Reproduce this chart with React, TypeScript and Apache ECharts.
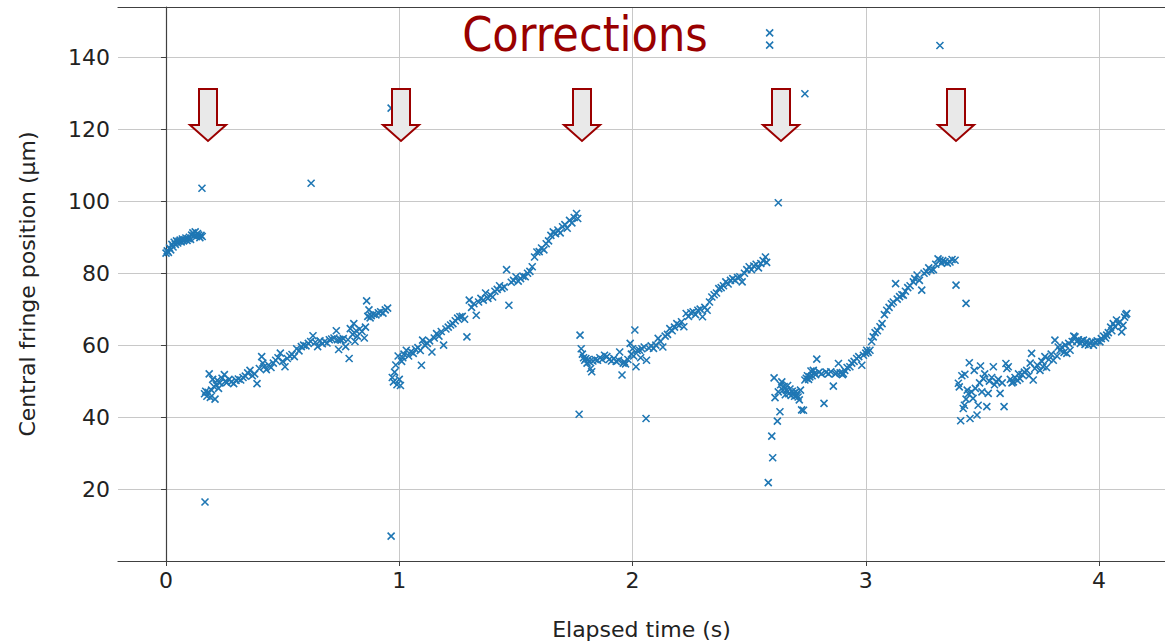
import React, { useEffect, useRef } from "react";
import * as echarts from "echarts";

// ---- Data (elapsed time s, central fringe position µm) ----
const seg1: [number, number][] = [
  [0.0, 85.6], [0.005, 86.2], [0.01, 85.8], [0.015, 87.0], [0.02, 86.5], [0.025, 88.0], [0.03, 87.3], [0.035, 88.6],
  [0.04, 88.0], [0.045, 89.0], [0.05, 88.4], [0.055, 88.9], [0.06, 89.2], [0.065, 88.7], [0.07, 89.5], [0.075, 89.0],
  [0.08, 89.3], [0.085, 89.8], [0.09, 89.1], [0.095, 89.6], [0.1, 90.0], [0.105, 89.4], [0.11, 90.6], [0.115, 91.2],
  [0.12, 90.4], [0.125, 91.5], [0.13, 90.2], [0.135, 91.0], [0.14, 90.6], [0.145, 89.9], [0.15, 90.5], [0.155, 90.2],
];

const seg2: [number, number][] = [
  [0.165, 46.5], [0.17, 47.2], [0.175, 45.8], [0.18, 46.9], [0.185, 52.0], [0.19, 45.5], [0.195, 47.5], [0.2, 50.5],
  [0.205, 48.5], [0.21, 45.0], [0.215, 49.0], [0.22, 50.2], [0.225, 48.0], [0.23, 49.5], [0.24, 50.8], [0.25, 51.8],
  [0.255, 50.0], [0.26, 49.6], [0.27, 50.5], [0.28, 49.8], [0.29, 49.3], [0.3, 50.2], [0.31, 50.6], [0.32, 50.3],
  [0.33, 51.0], [0.34, 51.4], [0.35, 52.3], [0.36, 53.0], [0.37, 51.5], [0.38, 52.0], [0.39, 49.3], [0.4, 53.5],
  [0.41, 56.8], [0.415, 55.0], [0.42, 54.0], [0.43, 53.2], [0.44, 54.5], [0.45, 53.8], [0.46, 55.0], [0.47, 55.8],
  [0.48, 56.5], [0.49, 57.8], [0.5, 55.5], [0.51, 54.0], [0.52, 56.3], [0.53, 57.0], [0.54, 57.4], [0.55, 56.8],
  [0.56, 59.0], [0.57, 58.4], [0.58, 59.6], [0.59, 60.0], [0.6, 59.8], [0.61, 60.5], [0.62, 61.0], [0.63, 62.6],
  [0.64, 60.8], [0.65, 59.6], [0.66, 61.2], [0.67, 60.4], [0.68, 61.0], [0.69, 60.6], [0.7, 61.5], [0.71, 61.7],
  [0.72, 62.0], [0.73, 64.0], [0.735, 61.5], [0.74, 58.8], [0.745, 61.6], [0.75, 61.4], [0.76, 61.8], [0.77, 59.6],
  [0.78, 61.5], [0.785, 56.3], [0.79, 64.6], [0.8, 63.0], [0.805, 66.0], [0.81, 61.0], [0.815, 64.0], [0.82, 62.5],
  [0.83, 64.5], [0.84, 63.8], [0.85, 62.0], [0.855, 65.0], [0.86, 72.3], [0.865, 68.0], [0.87, 69.8], [0.875, 67.6],
  [0.88, 68.2], [0.89, 68.6], [0.9, 68.4], [0.91, 69.0], [0.92, 69.3], [0.93, 68.9], [0.94, 69.8], [0.95, 70.3],
];

const seg3: [number, number][] = [
  [0.97, 51.0], [0.975, 49.8], [0.98, 52.5], [0.985, 54.5], [0.99, 49.0], [0.995, 57.0], [1.0, 50.5], [1.005, 48.8],
  [1.01, 55.5], [1.015, 56.5], [1.02, 57.5], [1.03, 58.6], [1.04, 57.0], [1.05, 58.2], [1.06, 57.7], [1.07, 58.8],
  [1.08, 59.3], [1.09, 58.5], [1.095, 54.4], [1.1, 61.4], [1.11, 60.0], [1.12, 60.5], [1.13, 61.2], [1.14, 58.1],
  [1.15, 62.0], [1.16, 63.2], [1.17, 62.5], [1.18, 63.8], [1.19, 60.0], [1.2, 64.5], [1.21, 65.0], [1.22, 65.6],
  [1.23, 66.0], [1.24, 66.8], [1.25, 67.5], [1.26, 67.9], [1.27, 68.0], [1.28, 67.2], [1.29, 62.3], [1.3, 72.5],
  [1.31, 70.5], [1.32, 71.5], [1.33, 68.3], [1.34, 72.0], [1.35, 73.0], [1.36, 72.5], [1.37, 74.5], [1.38, 73.0],
  [1.39, 74.0], [1.4, 73.4], [1.41, 75.0], [1.42, 75.5], [1.43, 76.5], [1.44, 75.8], [1.45, 76.2], [1.46, 81.0],
  [1.47, 71.1], [1.48, 77.5], [1.49, 78.0], [1.5, 79.0], [1.51, 77.8], [1.52, 78.5], [1.53, 79.2], [1.54, 79.0],
  [1.55, 80.0], [1.56, 80.5], [1.57, 81.8], [1.58, 84.5], [1.59, 85.9], [1.6, 86.0], [1.61, 87.0], [1.62, 86.5],
  [1.63, 88.2], [1.64, 89.0], [1.65, 90.5], [1.66, 91.5], [1.67, 91.0], [1.68, 92.0], [1.69, 91.2], [1.7, 92.9],
  [1.71, 93.5], [1.72, 92.5], [1.73, 94.7], [1.74, 94.0], [1.75, 95.5], [1.76, 96.6], [1.765, 95.2],
];

const seg4: [number, number][] = [
  [1.775, 62.8], [1.78, 59.0], [1.785, 57.5], [1.79, 56.5], [1.795, 55.8], [1.8, 56.3], [1.805, 55.0], [1.81, 56.0],
  [1.815, 55.4], [1.82, 53.5], [1.825, 52.6], [1.83, 55.6], [1.84, 56.0], [1.85, 55.8], [1.86, 56.5], [1.87, 56.0],
  [1.88, 57.2], [1.89, 56.8], [1.9, 56.0], [1.91, 55.6], [1.92, 56.3], [1.93, 55.5], [1.94, 55.8], [1.945, 58.1],
  [1.955, 51.7], [1.96, 55.0], [1.965, 55.4], [1.97, 54.8], [1.98, 56.0], [1.99, 60.5], [1.995, 57.5], [2.0, 59.0],
  [2.005, 57.0], [2.01, 64.2], [2.015, 54.0], [2.02, 58.5], [2.03, 58.6], [2.035, 56.5], [2.04, 59.0], [2.05, 59.5],
  [2.06, 55.8], [2.07, 59.2], [2.08, 59.8], [2.09, 59.1], [2.1, 60.0], [2.11, 61.9], [2.12, 61.0], [2.13, 59.5],
  [2.14, 62.5], [2.15, 63.0], [2.16, 64.6], [2.17, 64.0], [2.18, 65.0], [2.19, 66.0], [2.2, 65.5], [2.21, 66.5],
  [2.22, 65.1], [2.23, 68.8], [2.24, 68.0], [2.25, 69.0], [2.26, 69.3], [2.27, 68.5], [2.28, 69.7], [2.29, 70.0],
  [2.3, 67.9], [2.31, 70.5], [2.32, 69.7], [2.33, 72.0], [2.34, 73.4], [2.35, 74.0], [2.36, 74.5], [2.37, 75.7],
  [2.38, 76.0], [2.39, 76.5], [2.4, 77.6], [2.41, 77.0], [2.42, 78.0], [2.43, 78.5], [2.44, 78.0], [2.45, 78.8],
  [2.46, 79.0], [2.47, 77.6], [2.48, 80.0], [2.49, 81.0], [2.5, 81.8], [2.51, 81.0], [2.52, 82.0], [2.53, 82.5],
  [2.54, 81.5], [2.55, 82.7], [2.56, 83.5], [2.57, 84.5], [2.575, 83.0],
];

const seg5: [number, number][] = [
  [2.582, 21.8], [2.597, 34.7], [2.601, 28.7], [2.607, 50.9], [2.611, 45.4], [2.621, 38.9], [2.632, 41.5], [2.625, 47.0],
  [2.635, 49.0], [2.64, 49.8], [2.645, 47.5], [2.65, 48.5], [2.655, 46.2], [2.66, 47.5], [2.665, 48.8], [2.67, 46.5],
  [2.675, 47.8], [2.68, 46.0], [2.685, 47.2], [2.69, 46.6], [2.695, 45.8], [2.7, 47.0], [2.705, 46.0], [2.71, 45.6],
  [2.715, 44.8], [2.72, 47.5], [2.725, 42.0], [2.733, 41.9], [2.739, 50.3], [2.745, 50.8], [2.75, 51.5], [2.755, 50.5],
  [2.76, 51.2], [2.765, 52.8], [2.77, 51.5], [2.775, 53.0], [2.78, 52.2], [2.785, 51.8], [2.79, 56.1], [2.8, 52.5],
  [2.81, 52.0], [2.821, 43.8], [2.83, 52.5], [2.84, 52.0], [2.85, 52.6], [2.861, 48.6], [2.87, 52.0], [2.875, 52.4],
  [2.883, 54.9], [2.89, 52.3], [2.9, 51.8], [2.904, 52.1], [2.91, 53.0], [2.92, 53.8], [2.932, 54.0], [2.94, 55.0],
  [2.95, 55.5], [2.961, 56.3], [2.97, 56.8], [2.983, 54.4], [2.99, 57.2], [3.0, 57.8], [3.004, 58.6], [3.01, 58.0],
  [3.018, 58.6], [3.025, 61.0], [3.032, 62.3], [3.04, 63.5], [3.05, 64.0], [3.061, 65.1], [3.07, 66.0], [3.08, 68.5],
  [3.09, 69.7], [3.1, 70.5], [3.11, 71.5], [3.118, 72.0], [3.128, 77.1], [3.135, 72.8], [3.145, 73.5], [3.155, 74.0],
  [3.161, 73.9], [3.17, 75.0], [3.18, 76.0], [3.19, 76.5], [3.204, 77.6], [3.21, 78.5], [3.22, 79.5], [3.23, 78.0],
  [3.24, 75.3], [3.25, 80.0], [3.261, 80.4], [3.27, 81.5], [3.28, 80.8], [3.29, 81.0], [3.3, 82.5], [3.31, 84.0],
  [3.318, 83.6], [3.325, 82.8], [3.33, 83.5], [3.34, 83.2], [3.35, 82.8], [3.361, 83.1], [3.37, 83.8], [3.383, 83.6],
  [3.387, 76.7], [3.43, 71.6],
];

const seg6: [number, number][] = [
  [3.397, 49.4], [3.401, 48.4], [3.407, 39.0], [3.412, 51.5], [3.418, 42.4], [3.423, 43.3], [3.425, 51.9], [3.43, 45.0],
  [3.435, 47.5], [3.44, 46.5], [3.444, 55.1], [3.447, 39.6], [3.453, 47.0], [3.46, 45.2], [3.465, 53.0], [3.47, 48.0],
  [3.477, 40.6], [3.482, 43.3], [3.488, 49.5], [3.492, 54.2], [3.498, 47.0], [3.504, 50.7], [3.51, 52.0], [3.519, 42.9],
  [3.525, 46.6], [3.53, 50.0], [3.54, 51.0], [3.547, 54.0], [3.552, 49.0], [3.561, 49.8], [3.568, 50.5], [3.576, 46.6],
  [3.585, 49.5], [3.593, 42.9], [3.601, 54.9], [3.605, 53.5], [3.611, 54.0], [3.62, 50.5], [3.627, 49.5], [3.633, 49.8],
  [3.64, 51.0], [3.65, 50.2], [3.655, 52.0], [3.661, 50.7], [3.67, 51.8], [3.68, 52.5], [3.69, 53.0], [3.7, 51.5],
  [3.705, 55.0], [3.711, 57.7], [3.718, 50.3], [3.725, 53.5], [3.735, 54.5], [3.747, 53.0], [3.755, 55.5], [3.76, 54.0],
  [3.768, 56.8], [3.775, 53.8], [3.785, 56.0], [3.795, 57.5], [3.804, 55.8], [3.811, 61.4], [3.82, 57.0], [3.825, 59.5],
  [3.833, 58.6], [3.84, 59.5], [3.85, 58.0], [3.855, 60.0], [3.862, 57.7], [3.87, 60.5], [3.876, 58.6], [3.885, 61.0],
  [3.892, 62.5], [3.897, 62.3], [3.905, 61.0], [3.912, 61.5], [3.92, 60.5], [3.925, 61.2], [3.933, 61.4], [3.94, 60.2],
  [3.948, 61.0], [3.955, 60.0], [3.962, 60.6], [3.97, 61.0], [3.976, 60.0], [3.985, 60.8], [3.992, 61.2], [4.004, 60.9],
  [4.01, 61.8], [4.02, 62.5], [4.028, 62.0], [4.033, 62.8], [4.04, 63.5], [4.05, 65.0], [4.055, 64.0], [4.061, 66.0],
  [4.068, 65.2], [4.075, 67.0], [4.082, 66.0], [4.09, 66.5], [4.097, 63.7], [4.103, 65.5], [4.11, 67.8], [4.115, 68.5],
  [4.119, 68.8],
];

const outliers: [number, number][] = [
  [0.154, 103.6], [0.167, 16.4], [0.622, 105.0], [0.965, 6.9], [0.965, 125.9], [1.771, 40.8], [2.058, 39.6],
  [2.588, 146.8], [2.588, 143.4], [2.739, 129.9], [2.625, 99.6], [3.318, 143.3],
];

const xTicks = [0, 1, 2, 3, 4];
const yTicks = [20, 40, 60, 80, 100, 120, 140];
const arrowCentersPx = [208, 401, 582, 781, 956];

const X_MIN = -0.206;
const X_MAX = 4.283;
const Y_MIN = 0;
const Y_MAX = 154;

function arrowPoints(c: number): number[][] {
  return [
    [c - 9, 89], [c + 9, 89], [c + 9, 125], [c + 18, 125], [c, 141], [c - 18, 125], [c - 9, 125],
  ];
}

export default function App() {
  const ref = useRef<HTMLDivElement>(null);
  useEffect(() => {
    document.body.style.margin = "0";
    if (!ref.current) return;
    const chart = echarts.init(ref.current, undefined, { renderer: "svg" });
    const all = [...seg1, ...seg2, ...seg3, ...seg4, ...seg5, ...seg6, ...outliers];
    const axisColor = "#404040";
    const font = "DejaVu Sans";
    chart.setOption({
      animation: false,
      backgroundColor: "#ffffff",
      grid: { left: 118, top: 7, right: 0, bottom: 81, containLabel: false, outerBoundsMode: "none" },
      xAxis: [
        {
          type: "value",
          min: X_MIN,
          max: X_MAX,
          name: "Elapsed time (s)",
          nameLocation: "middle",
          nameGap: 57,
          nameTextStyle: { fontSize: 22, color: "#222", fontFamily: font },
          axisLine: { show: true, lineStyle: { color: axisColor, width: 1.2 } },
          axisTick: { show: true, length: 5, customValues: xTicks, lineStyle: { color: axisColor } },
          axisLabel: {
            customValues: xTicks,
            fontSize: 22,
            color: "#222",
            fontFamily: font,
            margin: 8,
          },
          splitLine: { show: true, lineStyle: { color: "#c8c8c8", width: 1 } },
        },
        {
          type: "value",
          position: "top",
          min: X_MIN,
          max: X_MAX,
          axisLine: { show: true, onZero: false, lineStyle: { color: axisColor, width: 1.2 } },
          axisTick: { show: false },
          axisLabel: { show: false },
          splitLine: { show: false },
        },
      ],
      yAxis: {
        type: "value",
        min: Y_MIN,
        max: Y_MAX,
        name: "Central fringe position (\u03bcm)",
        nameLocation: "middle",
        nameGap: 80,
        nameTextStyle: { fontSize: 22, color: "#222", fontFamily: font },
        axisLine: { show: true, lineStyle: { color: axisColor, width: 1.2 } },
        axisTick: { show: true, length: 5, customValues: yTicks, lineStyle: { color: axisColor } },
        axisLabel: { customValues: yTicks, fontSize: 22, color: "#222", fontFamily: font, margin: 8 },
        splitLine: { show: true, lineStyle: { color: "#c8c8c8", width: 1 } },
      },
      series: [
        {
          type: "scatter",
          xAxisIndex: 0,
          data: all,
          symbol: "path://M0,0L10,10M0,10L10,0",
          symbolSize: 7,
          itemStyle: { color: "#1f77b4", borderColor: "#1f77b4", borderWidth: 1.6, opacity: 1 },
        },
      ],
      graphic: [
        ...arrowCentersPx.map((c) => ({
          type: "polygon",
          shape: { points: arrowPoints(c) },
          style: { fill: "#e9e9e9", stroke: "#9b0000", lineWidth: 2 },
          z: 100,
        })),
        {
          type: "text",
          x: 585,
          y: 34,
          style: {
            text: "Corrections",
            fontSize: 48,
            fontFamily: "DejaVu Sans Condensed",
            fill: "#990000",
            align: "center",
            verticalAlign: "middle",
          },
          z: 100,
        },
      ],
    });
    return () => chart.dispose();
  }, []);
  return <div ref={ref} style={{ width: 1165, height: 642 }} />;
}
